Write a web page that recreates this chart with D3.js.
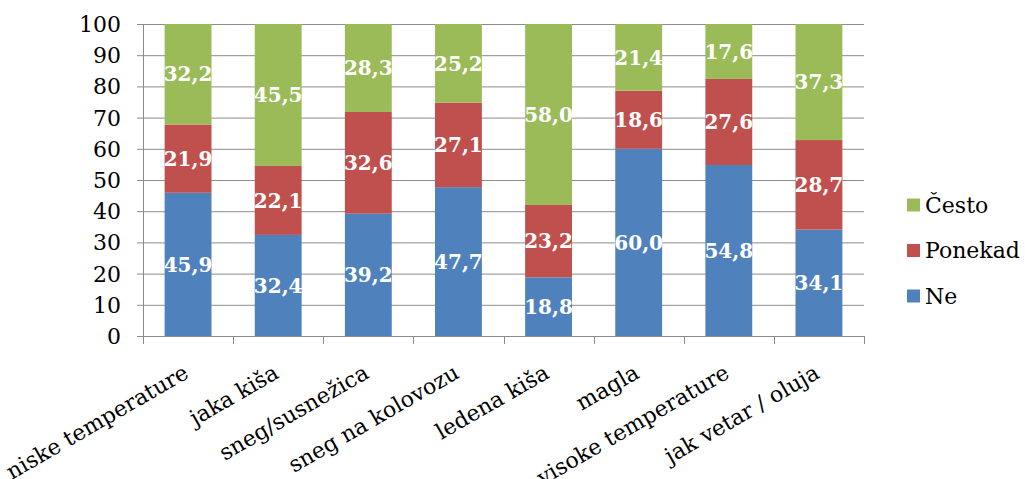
<!DOCTYPE html>
<html><head><meta charset="utf-8">
<script src="https://cdn.jsdelivr.net/npm/d3@7"></script>
<style>
body{margin:0;background:#fff;}
svg{display:block;font-family:"DejaVu Serif",serif;}
</style></head>
<body><svg id="c" width="1025" height="479"></svg>
<script>
const categories = ["niske temperature","jaka kiša","sneg/susnežica","sneg na kolovozu","ledena kiša","magla","visoke temperature","jak vetar / oluja"];
const seriesNames = ["Ne","Ponekad","Često"];
const ne      = [45.9,32.4,39.2,47.7,18.8,60.0,54.8,34.1];
const ponekad = [21.9,22.1,32.6,27.1,23.2,18.6,27.6,28.7];
const cesto   = [32.2,45.5,28.3,25.2,58.0,21.4,17.6,37.3];
const yTicks  = [0,10,20,30,40,50,60,70,80,90,100];
const colors  = ["#4F81BD","#C0504D","#9BBB59"];

const svg = d3.select("#c");
const X0=143, X1=864, Y0=336, Y1=24;
const x = d3.scaleBand().domain(categories).range([X0,X1]).paddingInner(0.48).paddingOuter(0.24);
const xb = d3.scaleBand().domain(categories).range([X0,X1]);
const y = d3.scaleLinear().domain([0,100]).range([Y0,Y1]);
const grid="#8c8c8c";

// gridlines
svg.append("g").selectAll("line").data(yTicks).join("line")
  .attr("x1",X0-6).attr("x2",X1).attr("y1",d=>y(d)+0.5).attr("y2",d=>y(d)+0.5)
  .attr("stroke",grid).attr("stroke-width",1);
// y axis line
svg.append("line").attr("x1",X0+0.5).attr("x2",X0+0.5).attr("y1",Y1).attr("y2",Y0+8).attr("stroke",grid);
// y tick labels
svg.append("g").selectAll("text").data(yTicks).join("text")
  .attr("x",121).attr("y",d=>y(d)).attr("dy","0.36em").attr("text-anchor","end")
  .attr("font-size",22).attr("fill","#000").text(d=>d);
// x category ticks
const edges = categories.map(c=>xb(c)).concat([X1]);
svg.append("g").selectAll("line").data(edges).join("line")
  .attr("x1",d=>Math.round(d)+0.5).attr("x2",d=>Math.round(d)+0.5).attr("y1",Y0).attr("y2",Y0+8)
  .attr("stroke",grid);

// stacked bars
const rows = categories.map((c,i)=>({cat:c, Ne:ne[i], Ponekad:ponekad[i], "Često":cesto[i]}));
const stack = d3.stack().keys(seriesNames)(rows);
const g = svg.append("g");
stack.forEach((layer,si)=>{
  g.append("g").selectAll("rect").data(layer).join("rect")
    .attr("x",d=>x(d.data.cat)).attr("width",x.bandwidth())
    .attr("y",d=>y(Math.min(100,d[1]))).attr("height",d=>y(d[0])-y(Math.min(100,d[1])))
    .attr("fill",colors[si]);
});
stack.forEach((layer,si)=>{
  g.append("g").selectAll("text").data(layer).join("text")
    .attr("x",d=>x(d.data.cat)+x.bandwidth()/2)
    .attr("y",d=>y((d[0]+Math.min(100,d[1]))/2)).attr("dy","0.36em")
    .attr("text-anchor","middle").attr("font-size",20).attr("font-weight","bold")
    .attr("fill","#fff").text(d=>(d[1]-d[0]).toFixed(1).replace(".",","));
});

// category labels
svg.append("g").selectAll("text").data(categories).join("text")
  .attr("transform",c=>`translate(${xb(c)+xb.bandwidth()/2+2},377) rotate(-30)`)
  .attr("text-anchor","end").attr("font-size",22).attr("fill","#000").text(c=>c);

// legend
const legendOrder=[2,1,0];
const lg = svg.append("g");
legendOrder.forEach((si,k)=>{
  const cy=205+k*45.5;
  lg.append("rect").attr("x",907).attr("y",cy-6.5).attr("width",13).attr("height",13).attr("fill",colors[si]);
  lg.append("text").attr("x",925).attr("y",cy).attr("dy","0.36em").attr("font-size",22).attr("fill","#000").text(seriesNames[si]);
});
</script></body></html>
